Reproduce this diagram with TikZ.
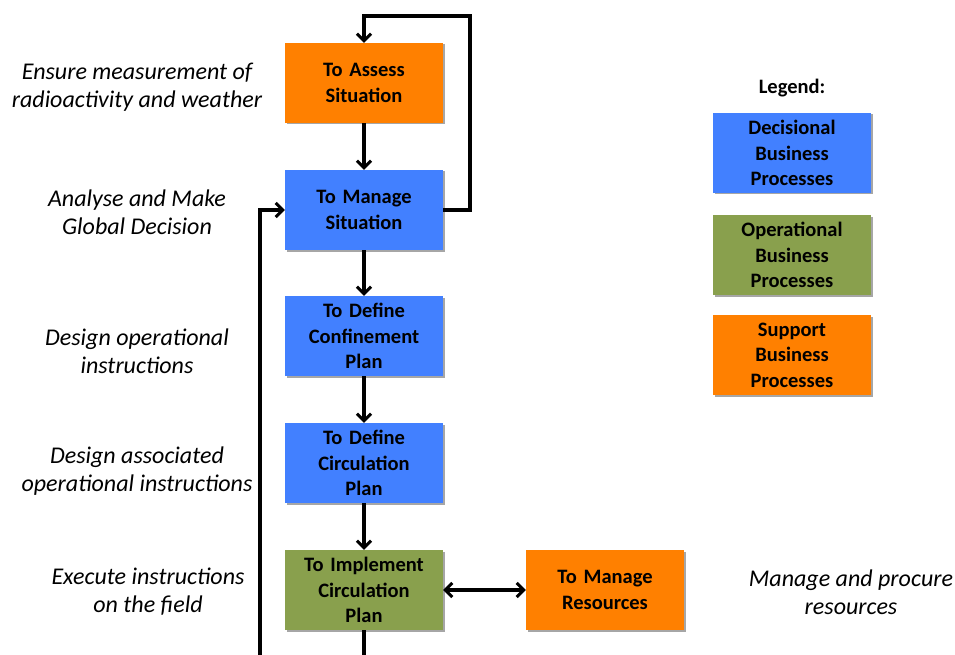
\documentclass[tikz,border=0pt]{standalone}
\usepackage{fontspec}
\setmainfont{Carlito}
\usetikzlibrary{arrows.meta,shadows}
\definecolor{decblue}{RGB}{66,128,255}
\definecolor{suporange}{RGB}{255,128,0}
\definecolor{opgreen}{RGB}{137,160,77}
\tikzset{
  proc/.style={minimum width=158pt, minimum height=80pt, inner sep=0pt, text width=156pt, align=center,
    font=\fontsize{20.5}{25.5}\selectfont\bfseries,
    drop shadow={shadow xshift=1.5pt, shadow yshift=-1.5pt, opacity=0.35, fill=black}},
  dec/.style={proc, fill=decblue},
  sup/.style={proc, fill=suporange},
  opr/.style={proc, fill=opgreen},
  lbl/.style={align=center, font=\fontsize{24}{28}\selectfont\itshape},
  barb/.tip={Straight Barb[length=7pt,width=14pt,line width=3pt]},
  conn/.style={line width=3.2pt, -barb},
  plain/.style={line width=3.2pt},
}
\begin{document}
\begin{tikzpicture}[x=1pt,y=-1pt]
\useasboundingbox (0,0) rectangle (955,655);
\node[sup] (assess) at (364,83) {To Assess\\Situation};
\node[dec] (manage) at (364,210) {To Manage\\Situation};
\node[dec] (confine) at (364,336) {To Define\\Confinement\\Plan};
\node[dec] (circ) at (364,463) {To Define\\Circulation\\Plan};
\node[opr] (impl) at (364,590) {To Implement\\Circulation\\Plan};
\node[sup] (res) at (605,590) {To Manage\\Resources};

\node[font=\fontsize{20.5}{25.5}\selectfont\bfseries] (legend) at (792,88) {Legend:};
\node[dec] (ldec) at (792,153) {Decisional\\Business\\Processes};
\node[opr] (lop) at (792,255) {Operational\\Business\\Processes};
\node[sup] (lsup) at (792,355) {Support\\Business\\Processes};

\node[lbl] (t1) at (137,87) {Ensure measurement of\\radioactivity and weather};
\node[lbl] (t2) at (137,212) {Analyse and Make\\Global Decision};
\node[lbl] (t3) at (137,351) {Design operational\\instructions};
\node[lbl] (t4) at (137,471) {Design associated\\operational instructions};
\node[lbl] (t5) at (148,592) {Execute instructions\\on the field};
\node[lbl] (t6) at (851,592) {Manage and procure\\resources};

\coordinate (loopR) at (470,16);
\coordinate (fbBottom) at (260,656);
\coordinate (implBottom) at (364,656);

\draw[conn] (manage.east) -| (loopR) -| (assess.north);
\draw[conn] (assess) -- (manage);
\draw[conn] (manage) -- (confine);
\draw[conn] (confine) -- (circ);
\draw[conn] (circ) -- (impl);
\draw[conn] (fbBottom) |- (manage.west);
\draw[plain] (impl.south) -- (implBottom);
\draw[line width=3.2pt, barb-barb] (impl) -- (res);
\end{tikzpicture}
\end{document}
